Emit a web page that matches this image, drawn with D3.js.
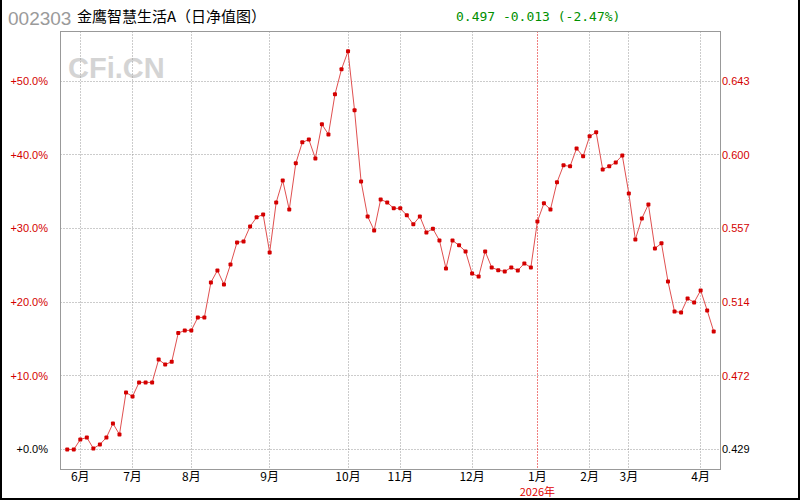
<!DOCTYPE html>
<html><head><meta charset="utf-8">
<script src="https://cdn.jsdelivr.net/npm/d3@7"></script>
<style>html,body{margin:0;padding:0;background:#fff;}svg{display:block;}</style>
</head><body>
<script>
// Percent change vs first point (weekly-ish samples, index based)
const pctValues = [0,0,1.36,1.63,0.14,0.68,1.63,3.53,2.04,7.74,
7.2,9.1,9.1,9.1,12.2,11.54,11.9,15.8,16.16,16.16,
17.92,17.92,22.67,24.3,22.4,25.1,28.1,28.24,30.27,31.5,
31.9,26.74,33.53,36.5,32.55,38.83,41.68,42.05,39.5,44.12,
42.76,48.2,51.59,54.03,46.02,36.38,31.63,29.73,33.94,33.53,
32.72,32.72,31.77,30.55,31.63,29.46,29.95,28.37,24.57,28.37,
27.7,26.88,23.87,23.46,26.88,24.71,24.34,24.16,24.71,24.3,
25.25,24.71,30.95,33.4,32.58,36.25,38.56,38.42,40.86,39.78,
42.49,43.04,38.01,38.42,38.96,39.91,34.75,28.51,31.36,33.26,
27.29,27.97,22.81,18.73,18.6,20.5,19.96,21.59,18.87,16.02];
const monthIndex = [2,10,19,31,43,51,62,72,80,86,97];
const monthLabels = ["6月","7月","8月","9月","10月","11月","12月","1月","2月","3月","4月"];
const yearMarkLabel = "2026年";
const yearMarkMonth = "1月";
const leftTicks = [0,10,20,30,40,50];
const leftTickLabels = ["+0.0%","+10.0%","+20.0%","+30.0%","+40.0%","+50.0%"];
const rightTickLabels = ["0.429","0.472","0.514","0.557","0.600","0.643"];
const fundCode = "002303";
const fundName = "金鹰智慧生活A（日净值图）";
const quoteText = "0.497 -0.013 (-2.47%)";
const watermark = "CFi.CN";

const W = 800, H = 500;
const L = 60.5, R = 720.5, T = 31.5, B = 469.5;
const svg = d3.select("body").append("svg").attr("width", W).attr("height", H)
  .style("font-family", "'Liberation Sans', Arial, sans-serif");

const x = d3.scaleLinear().domain([-1.032, 100.04]).range([L, R]);
const y = d3.scaleLinear().domain([-2.714, 56.72]).range([B, T]);
const px = v => Math.round(v - 0.5) + 0.5;

// outer border
svg.append("line").attr("x1",1).attr("x2",1).attr("y1",0).attr("y2",H).attr("stroke","#000").attr("stroke-width",2);
svg.append("line").attr("x1",W-1).attr("x2",W-1).attr("y1",0).attr("y2",H).attr("stroke","#000").attr("stroke-width",2);
svg.append("line").attr("x1",0).attr("x2",W).attr("y1",H-1).attr("y2",H-1).attr("stroke","#000").attr("stroke-width",2);

// watermark
svg.append("text").attr("x", 68).attr("y", 78).text(watermark)
  .attr("font-size", 29).attr("font-weight", "bold").attr("fill", "#d4d4d4")
  .attr("font-family", "'Liberation Sans', Arial, sans-serif");

// grid horizontal
svg.append("g").selectAll("line").data(leftTicks).join("line")
  .attr("x1", L).attr("x2", R).attr("y1", d => px(y(d))).attr("y2", d => px(y(d)))
  .attr("stroke", "#999").attr("stroke-dasharray", "1,2");
// grid vertical
svg.append("g").selectAll("line").data(monthIndex).join("line")
  .attr("x1", d => px(x(d))).attr("x2", d => px(x(d))).attr("y1", T).attr("y2", B)
  .attr("stroke", (d, i) => monthLabels[i] === yearMarkMonth ? "#e00000" : "#999")
  .attr("stroke-dasharray", "1,2");

// frame
svg.append("rect").attr("x", L).attr("y", T).attr("width", R - L).attr("height", B - T)
  .attr("fill", "none").attr("stroke", "#999");

// left labels
svg.append("g").selectAll("text").data(leftTicks).join("text")
  .attr("x", 48).attr("y", d => y(d) + 4).attr("text-anchor", "end")
  .attr("font-size", 11).attr("fill", (d, i) => i === 0 ? "#000" : "#d40000")
  .text((d, i) => leftTickLabels[i]);
// right labels
svg.append("g").selectAll("text").data(leftTicks).join("text")
  .attr("x", 722).attr("y", d => y(d) + 4).attr("text-anchor", "start")
  .attr("font-size", 11).attr("fill", (d, i) => i === 0 ? "#000" : "#d40000")
  .text((d, i) => rightTickLabels[i]);

// bottom labels
svg.append("g").selectAll("text").data(monthIndex).join("text")
  .attr("x", d => x(d)).attr("y", 481).attr("text-anchor", "middle")
  .attr("font-size", 12).attr("fill", "#000")
  .attr("font-family", "'Noto Sans CJK SC', sans-serif")
  .text((d, i) => monthLabels[i]);
const janIdx = monthIndex[monthLabels.indexOf(yearMarkMonth)];
svg.append("text").attr("x", x(janIdx)).attr("y", 496).attr("text-anchor", "middle")
  .attr("font-size", 11).attr("fill", "#e00000")
  .attr("font-family", "'Noto Sans CJK SC', sans-serif").text(yearMarkLabel);

// title
svg.append("text").attr("x", 8).attr("y", 25).attr("font-size", 19).attr("fill", "#9a9a9a").text(fundCode);
svg.append("text").attr("x", 77).attr("y", 22).attr("font-size", 15).attr("fill", "#000")
  .attr("font-family", "'Noto Sans CJK SC', sans-serif").text(fundName);
svg.append("text").attr("x", 456).attr("y", 21).attr("font-size", 13).attr("fill", "#009000")
  .attr("font-family", "'DejaVu Sans Mono', monospace").text(quoteText);

// line
const line = d3.line().x((d, i) => x(i)).y(d => y(d));
svg.append("path").datum(pctValues).attr("d", line).attr("fill", "none")
  .attr("stroke", "#e05050").attr("stroke-width", 1);
svg.append("g").selectAll("rect").data(pctValues).join("rect")
  .attr("x", (d, i) => x(i) - 2).attr("y", d => y(d) - 2).attr("width", 4).attr("height", 4)
  .attr("rx", 1).attr("fill", "#d40000");
</script>
</body></html>
